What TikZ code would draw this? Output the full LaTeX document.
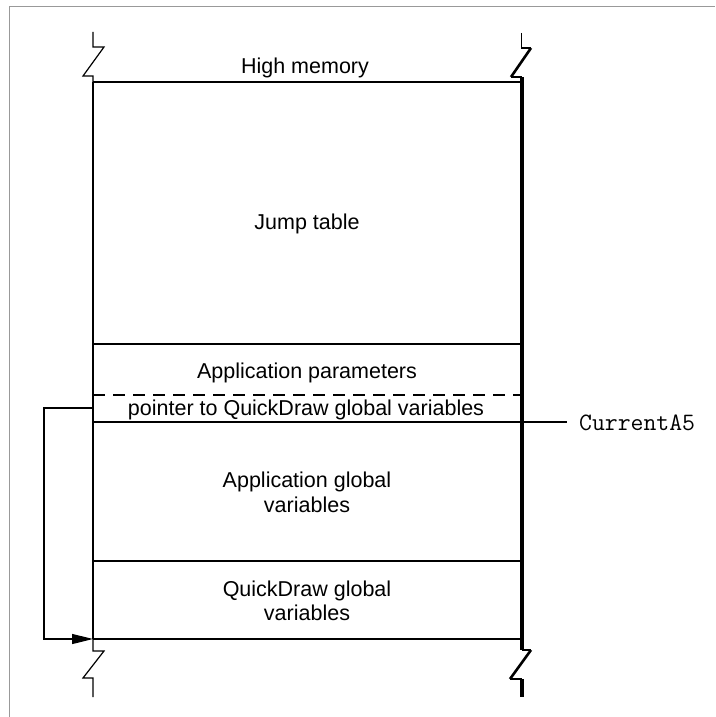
\documentclass[tikz,border=0pt]{standalone}
\usepackage{fontspec}
\setmainfont{Liberation Sans}
\usetikzlibrary{arrows.meta}
\tikzset{
  thinline/.style={line width=1.2pt, black},
  thickline/.style={line width=3.2pt, black},
  lbl/.style={font=\fontsize{21.5}{25}\selectfont, anchor=base, inner sep=0pt},
  codelbl/.style={font=\ttfamily\fontsize{25}{28}\selectfont, anchor=base west, inner sep=0pt},
  framegray/.style={line width=1.5pt, color=black!40},
  ptrarrow/.style={thinline, -{Triangle[length=21pt,width=10pt]}},
}
\begin{document}
\begin{tikzpicture}[x=1pt,y=-1pt]
\useasboundingbox (0,0) rectangle (715,717);
% page frame
\draw[framegray] (9.5,717) -- (9.5,6.5) -- (715,6.5);

% coordinates of main box
\coordinate (TL) at (93,82);
\coordinate (TR) at (522,82);
\coordinate (BL) at (93,639);
\coordinate (BR) at (522,639);

% box edges
\draw[line width=1.5pt] (TL) -- (BL);
\draw[thinline] (TL) -- (TR);
\draw[thinline] (BL) -- (BR);
\draw[thickline] (TR) -- (BR);

% break marks
\draw[thinline, miter limit=10] (93,32) -- (93,47) -- (104,47) -- (83,76) -- (93,76) -- (TL);
\draw[thinline, miter limit=10] (93,697) -- (93,678) -- (83,678) -- (104,651) -- (93,651) -- (BL);
\draw[thinline] (521.5,33) -- (521.5,48) -- (531,48);
\draw[line width=2.6pt] (531,48) -- (511,77);
\draw[thinline] (511,77) -- (522,77);
\draw[thickline] (522,77) -- (TR);
\draw[thickline] (BR) -- (522,650);
\draw[thinline] (522,650) -- (531,650);
\draw[line width=2.6pt] (531,650) -- (510,679);
\draw[thinline] (510,679) -- (522,679);
\draw[thickline] (522,679) -- (522,697);

% dividers
\draw[thinline] (93,344) -- (522,344);
\draw[thinline, dash pattern=on 12pt off 8pt] (93,395) -- (522,395);
\coordinate (A5end) at (567,422);
\draw[thinline] (93,422) -- (A5end);
\draw[thinline] (93,561) -- (522,561);

% labels
\node[lbl] (high) at (305,74) {High memory};
\node[lbl] (jump) at (307,229) {Jump table};
\node[lbl] (params) at (307,378) {Application parameters};
\node[lbl] (ptr) at (306,415) {pointer to QuickDraw global variables};
\node[lbl] (appg1) at (307,487) {Application global};
\node[lbl] (appg2) at (307,512) {variables};
\node[lbl] (qd1) at (307,596) {QuickDraw global};
\node[lbl] (qd2) at (307,620) {variables};
\node[codelbl] (cura5) at (579,430) {CurrentA5};

% pointer arrow
\coordinate (pstart) at (93,408);
\coordinate (pcorner1) at (44,408);
\coordinate (pcorner2) at (44,639);
\draw[ptrarrow] (pstart) -- (pcorner1) -- (pcorner2) -- (BL);
\end{tikzpicture}
\end{document}
